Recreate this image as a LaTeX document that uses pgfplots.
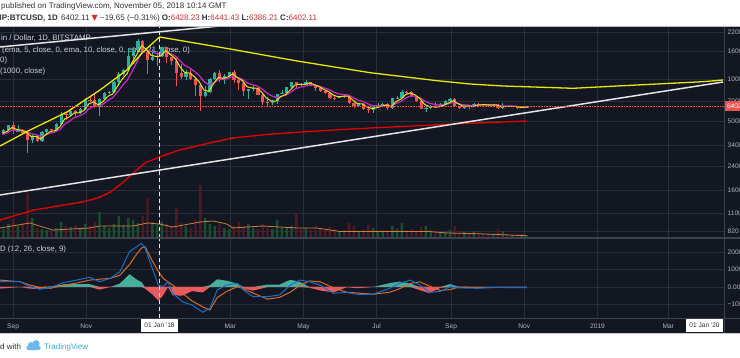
\documentclass[border=0pt]{standalone}
\usepackage{pgfplots}
\pgfplotsset{compat=1.18}
\usepackage{pgfplotstable}
\usepackage{fontspec}
\setmainfont{Liberation Sans}
\newfontfamily\symfont{DejaVu Sans}
\definecolor{bg}{RGB}{19,23,34}
\definecolor{gridc}{RGB}{42,46,58}
\definecolor{sepc}{RGB}{62,66,78}
\definecolor{lblc}{RGB}{178,181,190}
\definecolor{upc}{RGB}{38,178,160}
\definecolor{dnc}{RGB}{239,83,80}
\definecolor{yel}{RGB}{232,232,0}
\definecolor{mag}{RGB}{205,40,205}
\definecolor{redma}{RGB}{228,0,0}
\definecolor{wline}{RGB}{228,228,228}
\definecolor{macdb}{RGB}{25,110,200}
\definecolor{macdo}{RGB}{215,110,40}
\definecolor{histg}{RGB}{70,175,155}
\definecolor{histr}{RGB}{235,90,95}
\definecolor{volg}{RGB}{26,78,46}
\definecolor{volr}{RGB}{80,26,36}
\definecolor{volma}{RGB}{205,125,65}
\definecolor{hdr}{RGB}{50,50,50}
\definecolor{hred}{RGB}{215,45,45}
\definecolor{tvblue}{RGB}{70,165,225}
\definecolor{tvlogo}{RGB}{110,185,235}
\definecolor{legc}{RGB}{205,208,215}

% 4-day candles: day offset from 1 Jan 2018, open, high, low, close, up flag, volume (k BTC)
\pgfplotstableread{
d o h l c u v
-134 4100 4250 3950 4150 1 12
-130 4150 4400 4100 4350 1 9
-126 4350 4750 4300 4730 1 14
-122 4730 4980 4100 4300 0 18
-118 4300 4700 4200 4320 1 12
-114 4320 4400 4050 4150 0 15
-110 4150 4200 2970 3700 0 45
-106 3700 4100 3500 3950 1 20
-102 3950 3980 3550 3650 0 10
-98 3650 4250 3600 4200 1 9
-94 4200 4400 4100 4400 1 8
-90 4400 4450 4200 4350 0 7
-86 4350 4900 4300 4800 1 10
-82 4800 5850 4750 5650 1 16
-78 5650 5750 5100 5550 0 12
-74 5550 6150 5500 6000 1 11
-70 6000 6050 5450 5800 0 13
-66 5800 6250 5700 6150 1 9
-62 6150 7450 6100 7150 1 14
-58 7150 7600 6950 7100 0 12
-54 7100 7850 6300 6350 0 16
-50 6350 7350 5500 7250 1 26
-46 7250 8100 7200 8000 1 12
-42 8000 8350 7950 8100 1 10
-38 8100 9800 8050 9700 1 14
-34 9700 11300 9000 10900 1 22
-30 10900 11900 10700 11650 1 13
-26 11650 16800 11600 14700 1 20
-22 14700 17300 13000 16400 1 18
-18 16400 19670 16200 19100 1 15
-14 19100 19200 15500 15900 0 22
-10 15900 16000 11000 13900 0 40
-6 13900 16500 13700 14500 1 16
-2 14500 15400 12500 14800 1 14
2 14800 17200 14500 17100 1 16
6 17100 17150 13100 14500 0 14
10 14500 14600 12800 13600 0 12
14 13600 14200 9000 11200 0 30
18 11200 13000 10100 10500 0 15
22 10500 11700 9900 11100 1 12
26 11100 11900 10000 10100 0 10
30 10100 10300 7700 9100 0 18
34 9100 9400 6000 7600 0 53
38 7600 9000 7500 8100 1 20
42 8100 10300 8000 10100 1 14
46 10100 11300 10000 11100 1 12
50 11100 11800 9600 10100 0 14
54 10100 10900 9300 10600 1 10
58 10600 11400 10200 11400 1 9
62 11400 11700 9500 9900 0 12
66 9900 10100 8400 9500 0 16
70 9500 9900 7700 8250 0 12
74 8250 8600 7300 8600 1 14
78 8600 9100 8300 8700 1 10
82 8700 8800 7800 7800 0 9
86 7800 7900 6600 6900 0 14
90 6900 7500 6500 6800 0 10
94 6800 7100 6550 7000 1 9
98 7000 7950 6700 7900 1 18
102 7900 8450 7850 8000 1 10
106 8000 8900 7800 8850 1 11
110 8850 9700 8700 9650 1 12
114 9650 9700 8750 9350 0 25
118 9350 9450 9000 9200 0 9
122 9200 9950 9150 9650 1 10
126 9650 9700 9050 9050 0 8
130 9050 9050 8300 8700 0 12
134 8700 8800 8100 8250 0 9
138 8250 8500 7950 8000 0 8
142 8000 8050 7300 7450 0 11
146 7450 7600 7100 7400 0 9
150 7400 7700 7350 7650 1 7
154 7650 7750 7400 7600 0 8
158 7600 7700 6650 6850 0 15
162 6850 6900 6250 6450 0 12
166 6450 6800 6400 6700 1 7
170 6700 6800 6050 6150 0 9
174 6150 6250 5750 6100 0 13
178 6100 6450 5800 6350 1 10
182 6350 6750 6300 6550 1 7
186 6550 6800 6450 6700 1 6
190 6700 6750 6100 6250 0 8
194 6250 7450 6200 7350 1 12
198 7350 7600 7250 7400 1 9
202 7400 8450 7350 8200 1 15
206 8200 8300 7850 8150 0 8
210 8150 8250 7500 7600 0 9
214 7600 7650 6900 7000 0 7
218 7000 7150 6150 6200 0 11
222 6200 6500 5900 6250 1 12
226 6250 6600 6200 6400 1 8
230 6400 6900 6300 6350 0 7
234 6350 6800 6350 6700 1 6
238 6700 7100 6650 6980 1 7
242 6980 7350 6900 7250 1 8
246 7250 7400 6400 6450 0 12
250 6450 6500 6150 6300 0 7
254 6300 6600 6200 6500 1 6
258 6500 6550 6200 6350 0 5
262 6350 6800 6350 6700 1 7
266 6700 6750 6400 6650 0 5
270 6650 6700 6500 6600 0 4
274 6600 6650 6450 6560 0 4
278 6560 6650 6500 6620 1 4
282 6620 6640 6150 6250 0 9
286 6250 6800 6200 6450 1 7
290 6450 6500 6400 6420 0 4
294 6420 6500 6380 6460 1 3
298 6460 6470 6200 6250 0 4
302 6250 6450 6230 6380 1 4
306 6380 6450 6350 6402 1 3
}\candles

% EMAs: yellow (fast) and magenta (slow)
\pgfplotstableread{
d y m
-131 4130 4050
-127 4260 4150
-123 4540 4340
-119 4400 4330
-115 4340 4320
-111 4230 4270
-107 3910 4090
-103 3930 4050
-99 3760 3920
-95 4020 4010
-91 4250 4140
-87 4310 4210
-83 4600 4400
-79 5230 4800
-75 5420 5040
-71 5770 5350
-67 5790 5490
-63 6010 5700
-59 6690 6160
-55 6940 6460
-51 6590 6430
-47 6990 6690
-43 7600 7110
-39 7900 7430
-35 8980 8160
-31 10130 9040
-27 11040 9880
-23 13240 11420
-19 15140 13300
-15 17520 15600
-11 16550 16300
-7 14960 16000
-3 14680 15500
1 14750 15200
5 16160 15800
9 15160 15400
13 14220 14800
17 12410 13700
21 11260 12650
25 11160 12150
29 10520 11500
33 9670 10730
37 8430 9730
41 8230 9200
45 9350 9490
49 10400 10000
53 10220 10030
57 10450 10210
61 11020 10590
65 10350 10370
69 9840 10090
73 8890 9500
77 8720 9210
81 8710 9050
85 8160 8650
89 7400 8090
93 7040 7680
97 7020 7460
101 7550 7600
105 7820 7730
109 8440 8090
113 9170 8590
117 9280 8830
121 9230 8950
125 9480 9170
129 9220 9130
133 8910 8990
137 8510 8750
141 8200 8510
145 7750 8170
149 7540 7920
153 7610 7830
157 7630 7770
161 7160 7480
165 6730 7150
169 6710 7010
173 6370 6740
177 6210 6540
181 6290 6480
185 6450 6500
189 6600 6560
193 6390 6460
197 6970 6750
201 7230 6960
205 7810 7360
209 8040 7630
213 7780 7620
217 7310 7420
221 6640 7030
225 6410 6780
229 6400 6660
233 6370 6560
237 6570 6600
241 6820 6720
245 7080 6890
249 6700 6750
253 6460 6610
257 6480 6570
261 6400 6500
265 6580 6560
269 6620 6590
273 6610 6590
277 6610 6590
281 6600 6590
285 6390 6480
289 6430 6470
293 6440 6470
297 6430 6450
301 6320 6390
305 6360 6390
308 6390 6390
}\ema

\pgfplotstableread{
d p
-133 985
-105 1160
-80 1260
-64 1330
-50 1430
-41 1565
-30 1845
-22 2140
-12 2530
0 2790
15 3100
34 3400
61 3820
90 4050
117 4210
150 4380
175 4500
210 4650
242 4810
275 4930
306 5055
}\tblred

\pgfplotstableread{
d p
-132.9 3345
-107.9 4357
-77.1 5866
-49.6 8435
-27.1 11738
-13.75 15800
0 20250
58.75 16610
114.6 13620
175.4 11230
231.25 9836
258.75 9315
286.25 9011
344.6 8676
397.9 9162
452.9 9676
469.6 9950
}\tblyel

\pgfplotstableread{
d m s
-133 306 400
-116 306 300
-108 17 115
-100 -130 -20
-91 -40 -75
-80 250 100
-69 400 230
-58 560 400
-50 300 450
-41 500 500
-33 880 680
-25 2040 1300
-19 2330 1900
-15 2530 2250
-12 2240 2330
-6 1080 1500
-1 115 900
3 17 500
7 306 300
11 -365 115
19 -850 -350
27 -1040 -800
36 -1460 -1150
42 -1230 -1330
48 -175 -620
56 115 -250
65 210 17
70 -175 -100
78 -560 -350
90 -560 -700
100 -460 -600
109 115 -300
117 400 100
125 306 350
134 100 300
145 -365 -50
156 -310 -300
165 -420 -350
178 -420 -420
192 -75 -300
200 210 -100
209 400 200
217 115 300
225 -310 50
234 -250 -200
242 17 -150
250 -50 0
265 -75 -30
278 -20 -30
292 -40 -20
306 -30 -25
}\macd

\pgfplotstableread{
d v
-133 10
-108 15
-89 8
-58 10
-50 12
-22 12
-10 15
0 14
11 11
34 16
45 17
56 14
61 10
86 12
100 11
115 10
131 10
150 6.6
175 6.6
195 6.6
223 6.6
240 5
265 4.3
306 2.3
}\tblvolma

\tikzset{lbl/.style={font=\fontsize{6.6}{7}\selectfont, text=lblc}}
\pgfplotsset{
  tvaxis/.style={scale only axis, width=724pt, anchor=south west,
    xmin=-132.917, xmax=470.417,
    axis line style={draw=none}, tick style={draw=none},
    xtick={-122,-61,0,59,120,181,243,304,365,424},
    major grid style={draw=gridc, line width=0.6pt},
  },
}

\begin{document}
\begin{tikzpicture}[x=1pt,y=1pt]
\useasboundingbox (0,0) rectangle (740,357);
\clip (0,0) rectangle (740,357);
\fill[white] (0,0) rectangle (740,357);
\fill[bg] (0,23.7) rectangle (740,330.3);

% price pane grid and labels
\begin{axis}[tvaxis, at={(0pt,119pt)}, height=211pt, grid=major,
  ymode=log, ymin=731.9, ymax=23881,
  ytick={820,1100,1600,2400,3400,5000,7000,10000,16000,22000},
  yticklabels={820,1100,1600,2400,3400,5000,7000,10000,16000,22000},
  yticklabel pos=right, xticklabels={},
  yticklabel style={lbl, anchor=west, inner sep=0pt, xshift=3.5pt}]
\end{axis}

% volume
\begin{axis}[tvaxis, hide axis, grid=none, at={(0pt,119pt)}, height=60pt, ymin=0, ymax=60]
\addplot[ybar, bar shift=0pt, bar width=2.4pt, fill=volg, draw=none]
  table[x=d, y=v, restrict expr to domain={\thisrow{u}}{0.5:1.5}] {\candles};
\addplot[ybar, bar shift=0pt, bar width=2.4pt, fill=volr, draw=none]
  table[x=d, y=v, restrict expr to domain={\thisrow{u}}{-0.5:0.5}] {\candles};
\addplot[volma, line width=0.8pt] table[x=d, y=v] {\tblvolma};
\end{axis}

% legend texts
\begin{scope}[every node/.style={anchor=base west, inner sep=0pt, text=legc, font=\fontsize{7.8}{9}\selectfont}]
\node at (1,316) {in / Dollar, 1D, BITSTAMP};
\node at (2,304.7) {(ema, 5, close, 0, ema, 10, close, 0, ema, 21, close, 0)};
\node at (0,294.3) {0)};
\node at (0,283.7) {(1000, close)};
\node at (0,105.3) {D (12, 26, close, 9)};
\end{scope}

\pgfplotstablegetrowsof{\candles}
\pgfmathtruncatemacro{\nlast}{\pgfplotsretval-1}

% main price plots
\begin{axis}[tvaxis, hide axis, grid=none, at={(0pt,119pt)}, height=211pt,
  ymode=log, ymin=731.9, ymax=23881]
\addplot[redma, line width=1.3pt] table[x=d, y=p] {\tblred};
\pgfplotsforeachungrouped \i in {0,...,\nlast}{%
  \pgfplotstablegetelem{\i}{d}\of\candles \let\Cd=\pgfplotsretval
  \pgfplotstablegetelem{\i}{o}\of\candles \let\Co=\pgfplotsretval
  \pgfplotstablegetelem{\i}{h}\of\candles \let\Ch=\pgfplotsretval
  \pgfplotstablegetelem{\i}{l}\of\candles \let\Cl=\pgfplotsretval
  \pgfplotstablegetelem{\i}{c}\of\candles \let\Cc=\pgfplotsretval
  \pgfplotstablegetelem{\i}{u}\of\candles
  \ifnum\pgfplotsretval=1 \def\Ccol{upc}\else\def\Ccol{dnc}\fi
  \edef\tmp{\noexpand\addplot[\Ccol, line width=0.6pt] coordinates {(\Cd,\Cl) (\Cd,\Ch)};
    \noexpand\addplot[\Ccol, line width=3.2pt] coordinates {(\Cd,\Co) (\Cd,\Cc)};}%
  \tmp
}
\addplot[mag, line width=1.2pt] table[x=d, y=m] {\ema};
\addplot[yel, line width=1pt] table[x=d, y=y] {\ema};
\addplot[wline, line width=1.5pt] coordinates {(-132.9,1489) (469.6,9627)};
\addplot[wline, line width=1.5pt] coordinates {(-132.9,17170) (117,27530)};
\addplot[yel, line width=1.3pt] table[x=d, y=p] {\tblyel};
\addplot[dnc, densely dotted, line width=0.6pt] coordinates {(-133,6402.11) (471,6402.11)};
\addplot[white!80!gray, dash pattern=on 4pt off 3pt, line width=0.7pt] coordinates {(0,731.9) (0,23881)};
\end{axis}

% MACD pane
\begin{axis}[tvaxis, at={(0pt,39pt)}, height=80pt, grid=major,
  ymin=-1792, ymax=2832,
  ytick={-1000,0,1000,2000}, yticklabels={−1000,0.00,1000,2000},
  yticklabel pos=right,
  yticklabel style={lbl, anchor=west, inner sep=0pt, xshift=3.5pt},
  xticklabels={Sep,Nov,,Mar,May,Jul,Sep,Nov,2019,Mar},
  xticklabel style={lbl, anchor=base, inner sep=0pt, yshift=-10.5pt}]
\addplot[fill=histg, draw=none] table[x=d, y expr={max(\thisrow{m}-\thisrow{s},0)}] {\macd} \closedcycle;
\addplot[fill=histr, draw=none] table[x=d, y expr={min(\thisrow{m}-\thisrow{s},0)}] {\macd} \closedcycle;
\addplot[macdo, line width=1pt] table[x=d, y=s] {\macd};
\addplot[macdb, line width=1pt] table[x=d, y=m] {\macd};
\addplot[white!80!gray, dash pattern=on 4pt off 3pt, line width=0.7pt] coordinates {(0,-1792) (0,2832)};
\end{axis}

% separators
\draw[sepc, line width=1.2pt] (0,119) -- (740,119);
\draw[sepc, line width=0.8pt] (0,39) -- (740,39);
\draw[sepc, line width=0.8pt] (724.3,23.7) -- (724.3,330.3);
\draw[gray!55, line width=0.8pt] (0,330.3) -- (740,330.3);
\draw[gray!40, line width=0.6pt] (0,23.7) -- (740,23.7);

% price label
\node[anchor=west, fill=dnc, text=white, font=\fontsize{6.6}{7}\selectfont, minimum height=10pt, inner xsep=2pt, inner ysep=0pt] at (724.8,251) {6402.11};

% date boxes
\node[fill=white, text=hdr, font=\fontsize{6.6}{7}\selectfont, minimum height=13pt, minimum width=37pt, inner sep=0pt] at (159.5,31.5) {01 Jan \textquotesingle18};
\node[fill=white, text=hdr, font=\fontsize{6.6}{7}\selectfont, minimum height=13pt, minimum width=37pt, inner sep=0pt] at (704.5,31.5) {01 Jan \textquotesingle20};

% header
\node[anchor=base west, inner sep=0pt, text=hdr, font=\fontsize{8}{9}\selectfont] at (1,348) {published on TradingView.com, November 05, 2018 10:14 GMT};
\node[anchor=base east, inner sep=0pt, text=hdr, font=\fontsize{8}{9}\selectfont\bfseries] at (58,336.3) {MP:BTCUSD, 1D};
\node[anchor=base west, inner sep=0pt, text=hdr, font=\fontsize{8}{9}\selectfont] at (61,336.3) {6402.11 \textcolor{hred}{\symfont ▼} −19.65 (−0.31\%) \textbf{O:}\textcolor{hred}{6428.23} \textbf{H:}\textcolor{hred}{6441.43} \textbf{L:}\textcolor{hred}{6386.21} \textbf{C:}\textcolor{hred}{6402.11}};

% footer
\node[anchor=base west, inner sep=0pt, text=hdr, font=\fontsize{8}{9}\selectfont] at (0,8) {d with};
\fill[tvlogo, rounded corners=1.5pt] (26.5,7) rectangle (40.5,11.5);
\fill[tvlogo] (31,12) circle (3);
\fill[tvlogo] (36,13.2) circle (3.7);
\node[anchor=base west, inner sep=0pt, text=tvblue, font=\fontsize{8}{9}\selectfont] at (44,8) {TradingView};
\end{tikzpicture}
\end{document}
